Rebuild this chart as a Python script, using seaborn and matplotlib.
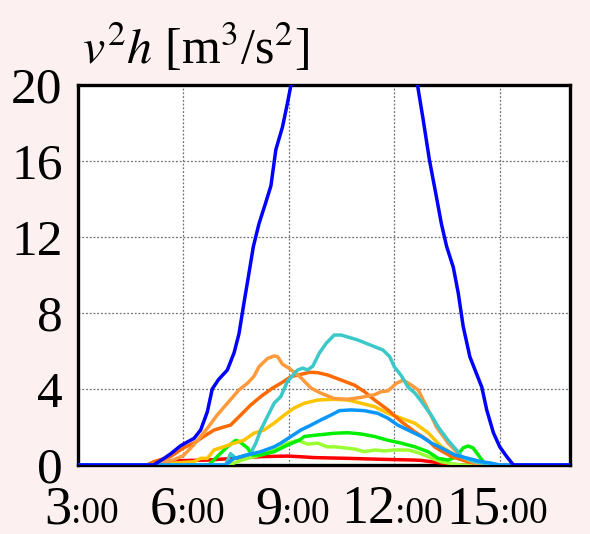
import matplotlib
matplotlib.use("Agg")
import matplotlib.pyplot as plt
import seaborn as sns
import pandas as pd

# ---------------- data ----------------
hour_labels = ["3", "6", "9", "12", "15"]
y_ticks = [0, 4, 8, 12, 16, 20]

blue_h = [3.0, 5.15, 5.45, 5.63, 5.91, 6.1, 6.3, 6.49, 6.68, 6.82, 7.0, 7.25, 7.44, 7.58, 7.72,
          7.82, 7.99, 8.15, 8.34, 8.49, 8.63, 8.82, 8.96, 9.06, 9.3, 9.6, 10.0, 10.5, 11.0, 11.5,
          12.0, 12.3, 12.66, 12.82, 13.0, 13.2, 13.34, 13.49, 13.68, 13.82, 13.96, 14.15, 14.34,
          14.49, 14.63, 14.82, 15.0, 15.2, 15.39, 17.0]
blue_v = [0, 0, 0.35, 0.58, 1.0, 1.2, 1.4, 1.84, 2.8, 4.0, 4.5, 5.0, 5.9, 6.9, 8.5,
          9.6, 11.5, 12.7, 13.8, 14.7, 16.6, 17.8, 19.05, 20, 22.5, 25.5, 28.5, 31, 32, 31,
          28, 25, 20, 18.2, 16.05, 14.1, 12.7, 11.5, 10.4, 9.05, 7.3, 5.7, 4.8,
          4.1, 2.9, 1.7, 0.96, 0.44, 0, 0]

cyan_h = [3.0, 7.2, 7.34, 7.49, 7.91, 8.06, 8.2, 8.39, 8.58, 8.77, 8.96, 9.25, 9.4, 9.53, 9.68,
          9.87, 10.06, 10.29, 10.49, 10.96, 11.34, 11.68, 11.87, 12.0, 12.2, 12.39, 12.58, 12.75,
          13.06, 13.25, 13.53, 13.77, 13.91, 14.29, 14.68, 15.0, 17.0]
cyan_v = [0, 0, 0.6, 0.35, 0.6, 1.15, 1.84, 2.55, 3.25, 3.6, 4.4, 5.0, 5.1, 5.0, 5.2,
          5.9, 6.4, 6.84, 6.84, 6.58, 6.3, 6.05, 5.7, 5.17, 4.7, 4.1, 3.8, 3.4,
          2.6, 2.0, 1.3, 0.79, 0.44, 0.17, 0.05, 0, 0]

lorange_h = [3.0, 5.0, 5.34, 5.7, 6.0, 6.29, 6.49, 6.68, 6.96, 7.25, 7.58, 7.82, 8.0, 8.15, 8.39,
             8.58, 8.68, 8.82, 9.0, 9.25, 9.34, 9.63, 9.91, 10.29, 10.68, 11.06, 11.44, 11.63,
             11.82, 12.06, 12.25, 12.49, 12.68, 12.87, 13.06, 13.2, 13.53, 13.91, 14.29, 14.6, 17.0]
lorange_v = [0, 0, 0.1, 0.25, 0.5, 1.05, 1.5, 1.93, 2.63, 3.25, 3.95, 4.3, 4.65, 5.17, 5.6,
             5.74, 5.7, 5.3, 5.1, 4.74, 4.6, 4.05, 3.78, 3.5, 3.46, 3.56, 3.7, 3.86,
             3.9, 4.3, 4.47, 4.2, 3.95, 3.25, 2.55, 2.0, 1.15, 0.44, 0.1, 0, 0]

dorange_h = [3.0, 4.96, 5.15, 5.63, 6.0, 6.29, 6.58, 6.87, 7.15, 7.34, 7.63, 7.91, 8.2, 8.53,
             8.77, 9.06, 9.29, 9.6, 9.82, 10.1, 10.49, 10.87, 11.15, 11.44, 11.82, 12.2, 12.58,
             12.96, 13.15, 13.63, 14.1, 14.5, 17.0]
dorange_v = [0, 0, 0.17, 0.44, 0.9, 1.15, 1.5, 1.84, 2.0, 2.1, 2.63, 3.15, 3.6, 4.04,
             4.3, 4.65, 4.75, 4.88, 4.86, 4.74, 4.47, 4.2, 3.86, 3.42, 2.9, 2.28, 1.75,
             1.3, 0.95, 0.44, 0.17, 0, 0]

yellow_h = [3.0, 5.5, 5.72, 6.29, 6.49, 6.68, 6.87, 7.15, 7.44, 7.72, 8.0, 8.29, 8.58, 8.87, 9.15,
            9.44, 9.82, 10.29, 10.68, 11.06, 11.44, 11.82, 12.2, 12.58, 12.96, 13.34, 13.72, 14.1,
            14.58, 15.0, 17.0]
yellow_v = [0, 0, 0.1, 0.17, 0.35, 0.35, 0.79, 0.96, 1.15, 1.3, 1.67, 1.84, 2.2, 2.63, 3.0,
            3.25, 3.42, 3.46, 3.42, 3.25, 3.07, 2.72, 2.46, 2.2, 1.7, 0.96, 0.53, 0.26,
            0.1, 0, 0]

azure_h = [3.0, 7.2, 7.44, 7.82, 8.2, 8.58, 8.77, 9.06, 9.34, 9.63, 9.91, 10.2, 10.44, 10.77, 11.15,
           11.53, 11.82, 12.1, 12.39, 12.77, 13.06, 13.34, 13.72, 14.1, 14.49, 14.75, 15.0, 17.0]
azure_v = [0, 0, 0.35, 0.53, 0.7, 0.96, 1.15, 1.5, 1.84, 2.1, 2.37, 2.63, 2.86, 2.9, 2.86,
           2.72, 2.46, 2.1, 1.84, 1.5, 1.15, 0.9, 0.53, 0.35, 0.17, 0.1, 0, 0]

green_h = [3.0, 6.72, 6.96, 7.25, 7.49, 7.6, 7.82, 7.96, 8.2, 8.58, 8.96, 9.29, 9.44, 9.82, 10.29,
           10.68, 11.06, 11.44, 11.82, 12.2, 12.58, 12.96, 13.25, 13.53, 13.77, 13.96, 14.1, 14.24,
           14.39, 14.53, 14.7, 17.0]
green_v = [0, 0, 0.44, 0.96, 1.3, 1.23, 0.9, 0.53, 0.53, 0.7, 1.05, 1.3, 1.5, 1.58, 1.67,
           1.7, 1.63, 1.5, 1.3, 1.15, 0.96, 0.7, 0.35, 0.26, 0.44, 0.9, 1.0, 0.9,
           0.53, 0.17, 0, 0]

lgreen_h = [3.0, 7.3, 7.53, 7.82, 8.2, 8.58, 8.96, 9.25, 9.53, 9.82, 10.1, 10.29, 10.6, 10.87,
            11.15, 11.44, 11.72, 12.0, 12.39, 12.68, 12.96, 13.34, 13.72, 13.9, 17.0]
lgreen_v = [0, 0, 0.17, 0.35, 0.53, 0.79, 1.15, 1.3, 1.1, 1.15, 0.95, 0.96, 0.9, 0.84,
            0.7, 0.79, 0.74, 0.79, 0.79, 0.65, 0.44, 0.17, 0.05, 0, 0]

red_h = [3.0, 5.0, 5.34, 5.91, 6.68, 7.44, 8.2, 8.96, 9.29, 9.72, 10.68, 11.63, 12.58, 12.77,
         13.34, 13.8, 17.0]
red_v = [0, 0, 0.17, 0.23, 0.26, 0.35, 0.44, 0.47, 0.44, 0.39, 0.35, 0.3, 0.26, 0.24,
         0.1, 0, 0]

series = [
    ("red", red_h, red_v, "#ff0000"),
    ("lightgreen", lgreen_h, lgreen_v, "#99ff33"),
    ("green", green_h, green_v, "#00ee00"),
    ("yellow", yellow_h, yellow_v, "#ffc400"),
    ("darkorange", dorange_h, dorange_v, "#ff6a00"),
    ("lightorange", lorange_h, lorange_v, "#ff9a3c"),
    ("cyan", cyan_h, cyan_v, "#3cc8c8"),
    ("azure", azure_h, azure_v, "#0a96ff"),
    ("blue", blue_h, blue_v, "#0000ff"),
]

frames = []
for name, h, v, _ in series:
    frames.append(pd.DataFrame({"hour": h, "value": v, "series": name}))
df = pd.concat(frames, ignore_index=True)
palette = {name: c for name, _, _, c in series}
order = [name for name, _, _, _ in series]

# ---------------- figure ----------------
bg = "#fdf0f0"
plt.rcParams["mathtext.fontset"] = "stix"
serif = ["Liberation Serif", "DejaVu Serif"]

fig = plt.figure(figsize=(5.9, 5.34), dpi=100, facecolor=bg)
ax = fig.add_axes([78 / 590, 1 - 465 / 534, (570 - 78) / 590, (465 - 85) / 534])
ax.set_facecolor("white")

sns.lineplot(data=df, x="hour", y="value", hue="series", hue_order=order,
             palette=palette, estimator=None, sort=False, legend=False,
             linewidth=2.5, ax=ax)

ax.set_xlim(3, 17)
ax.set_ylim(0, 20)
ax.set_xticks([3, 6, 9, 12, 15])
ax.set_xticklabels([])
ax.set_yticks(y_ticks)
ax.set_yticklabels([str(t) for t in y_ticks], family=serif, fontsize=37)
ax.tick_params(axis="both", length=0)
ax.tick_params(axis="y", pad=11)
ax.set_xlabel("")
ax.set_ylabel("")
ax.grid(True, color="#707070", linestyle=(0, (1.5, 1.5)), linewidth=0.9)
ax.set_axisbelow(True)
for sp in ax.spines.values():
    sp.set_visible(True)
    sp.set_color("black")
    sp.set_linewidth(2.4)
    sp.set_zorder(1)

# x tick labels: large hour + smaller ":00", colon starting near each tick
join_px = [71, 177, 282, 395, 500]
base_y = 1 - 523 / 534
for lab, xp in zip(hour_labels, join_px):
    fig.text(xp / 590, base_y, lab, ha="right", va="baseline", family=serif, fontsize=39)
    fig.text(xp / 590, base_y, ":00", ha="left", va="baseline", family=serif, fontsize=27)

fig.text(82 / 590, 1 - 64 / 534, r"$v^2h$ [m$^3$/s$^2$]", ha="left", va="baseline",
         family=serif, fontsize=36)

fig.savefig("out.png", dpi=100, facecolor=bg)
